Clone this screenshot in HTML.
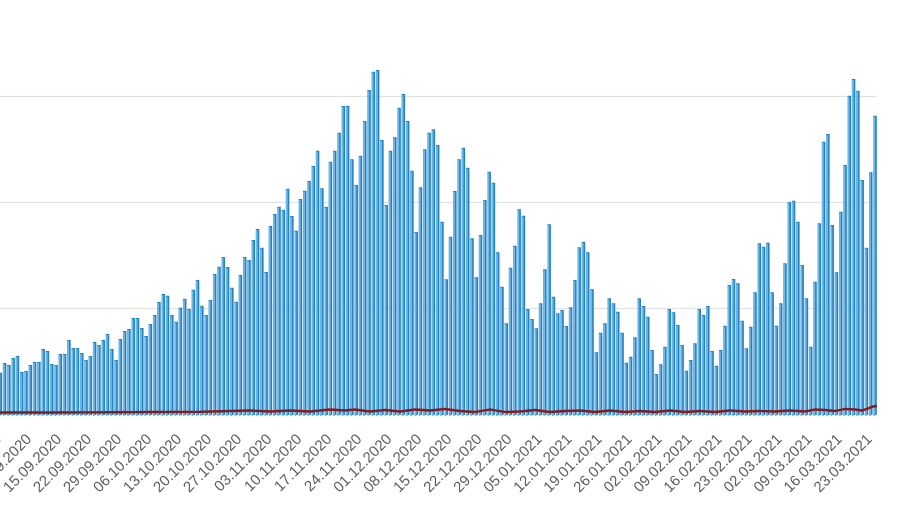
<!DOCTYPE html>
<html>
<head>
<meta charset="utf-8">
<style>
  html, body { margin: 0; padding: 0; background: #ffffff; }
  body { width: 900px; height: 505px; overflow: hidden; }
  svg { display: block; }
</style>
</head>
<body>
<svg width="900" height="505" viewBox="0 0 900 505" xmlns="http://www.w3.org/2000/svg">
  <rect x="0" y="0" width="900" height="505" fill="#ffffff"/>
  <!-- gridlines -->
  <g stroke="#e2e2e2" stroke-width="1.3">
    <line x1="0" y1="96.5" x2="877" y2="96.5"/>
    <line x1="0" y1="202.5" x2="877" y2="202.5"/>
    <line x1="0" y1="308.5" x2="877" y2="308.5"/>
  </g>
  <defs>
    <path id="bars" d="M0.3 415V372.7V415m4.288 0V363V415m4.288 0V365V415m4.288 0V358V415m4.288 0V356V415m4.288 0V372V415m4.288 0V371V415m4.288 0V365V415m4.288 0V362V415m4.288 0V362V415m4.288 0V349V415m4.288 0V351V415m4.288 0V364V415m4.288 0V365V415m4.288 0V354V415m4.288 0V354V415m4.288 0V340V415m4.288 0V348V415m4.288 0V348V415m4.288 0V353V415m4.288 0V360V415m4.288 0V356V415m4.288 0V342V415m4.288 0V345V415m4.288 0V340V415m4.288 0V334V415m4.288 0V349V415m4.288 0V360V415m4.288 0V339V415m4.288 0V331V415m4.288 0V329V415m4.288 0V318V415m4.288 0V318V415m4.288 0V328V415m4.288 0V336V415m4.288 0V324V415m4.288 0V315V415m4.288 0V302V415m4.288 0V294V415m4.288 0V295.7V415m4.288 0V315V415m4.288 0V321.7V415m4.288 0V307.7V415m4.288 0V298.7V415m4.288 0V309V415m4.288 0V289.7V415m4.288 0V280V415m4.288 0V305.7V415m4.288 0V315V415m4.288 0V300V415m4.288 0V274V415m4.288 0V266.7V415m4.288 0V257V415m4.288 0V267V415m4.288 0V287.7V415m4.288 0V301.7V415m4.288 0V275V415m4.288 0V257V415m4.288 0V260V415m4.288 0V240V415m4.288 0V229V415m4.288 0V247.7V415m4.288 0V272V415m4.288 0V226V415m4.288 0V214V415m4.288 0V206.7V415m4.288 0V210V415m4.288 0V188.7V415m4.288 0V216V415m4.288 0V230.7V415m4.288 0V199V415m4.288 0V190.7V415m4.288 0V181V415m4.288 0V166V415m4.288 0V150.7V415m4.288 0V188.3V415m4.288 0V206.7V415m4.288 0V161.7V415m4.288 0V150.7V415m4.288 0V132.7V415m4.288 0V106V415m4.288 0V106V415m4.288 0V159.3V415m4.288 0V185V415m4.288 0V155.7V415m4.288 0V121V415m4.288 0V90V415m4.288 0V71.7V415m4.288 0V70V415m4.288 0V140V415m4.288 0V205V415m4.288 0V150.7V415m4.288 0V137.3V415m4.288 0V107.7V415m4.288 0V94V415m4.288 0V121V415m4.288 0V170.7V415m4.288 0V232V415m4.288 0V187.3V415m4.288 0V149.3V415m4.288 0V132.7V415m4.288 0V129.3V415m4.288 0V145V415m4.288 0V221.7V415m4.288 0V279.3V415m4.288 0V236.7V415m4.288 0V191V415m4.288 0V159.3V415m4.288 0V147.7V415m4.288 0V167.7V415m4.288 0V238.3V415m4.288 0V277.3V415m4.288 0V235V415m4.288 0V200V415m4.288 0V171.7V415m4.288 0V182.7V415m4.288 0V252.3V415m4.288 0V286.7V415m4.288 0V323.3V415m4.288 0V267.7V415m4.288 0V245.7V415m4.288 0V209.3V415m4.288 0V215.7V415m4.288 0V309V415m4.288 0V319V415m4.288 0V328.3V415m4.288 0V303.3V415m4.288 0V269.3V415m4.288 0V224.3V415m4.288 0V296.7V415m4.288 0V313.3V415m4.288 0V310V415m4.288 0V326V415m4.288 0V307.3V415m4.288 0V280V415m4.288 0V247.3V415m4.288 0V241.7V415m4.288 0V252.3V415m4.288 0V289.3V415m4.288 0V352.3V415m4.288 0V332.7V415m4.288 0V323.3V415m4.288 0V298.3V415m4.288 0V303.3V415m4.288 0V311.7V415m4.288 0V332.7V415m4.288 0V362.7V415m4.288 0V356.7V415m4.288 0V337.3V415m4.288 0V298.3V415m4.288 0V306V415m4.288 0V316.7V415m4.288 0V350V415m4.288 0V374V415m4.288 0V364.3V415m4.288 0V346.7V415m4.288 0V309V415m4.288 0V312.3V415m4.288 0V325V415m4.288 0V345V415m4.288 0V370.7V415m4.288 0V360V415m4.288 0V343.3V415m4.288 0V309V415m4.288 0V315V415m4.288 0V306V415m4.288 0V351V415m4.288 0V365.7V415m4.288 0V350V415m4.288 0V325.7V415m4.288 0V285V415m4.288 0V279V415m4.288 0V283.3V415m4.288 0V320.7V415m4.288 0V348.3V415m4.288 0V326.7V415m4.288 0V292.3V415m4.288 0V243.3V415m4.288 0V246.7V415m4.288 0V242.7V415m4.288 0V292.3V415m4.288 0V325.7V415m4.288 0V303.3V415m4.288 0V263.3V415m4.288 0V202.3V415m4.288 0V200.7V415m4.288 0V221.7V415m4.288 0V265V415m4.288 0V298.3V415m4.288 0V346.7V415m4.288 0V281.7V415m4.288 0V223.3V415m4.288 0V141.7V415m4.288 0V134V415m4.288 0V225V415m4.288 0V272.3V415m4.288 0V211.7V415m4.288 0V165V415m4.288 0V95.7V415m4.288 0V79V415m4.288 0V90.7V415m4.288 0V180V415m4.288 0V247.7V415m4.288 0V172.3V415m4.288 0V115.7V415"/>
  </defs>
  <!-- bars: dark body + light left highlight -->
  <use href="#bars" fill="none" stroke="#2383c1" stroke-width="3.5"/>
  <use href="#bars" transform="translate(-0.75 1)" fill="none" stroke="#72b8e6" stroke-width="1.8"/>

  <!-- red line -->
  <path fill="none" stroke="#861a1e" stroke-width="2.4" stroke-linejoin="round"
    d="M0 412.5 L50 412.5 L100 412.3 L150 412 L200 411.8 L230 411 L250 410.5 L270 411.5 L290 410.5 L310 411.5 L330 409.5 L345 410.5 L355 409.5 L370 411.5 L385 410 L400 411.5 L415 409.5 L430 410.5 L445 409 L460 411 L475 412 L490 409.5 L505 412 L520 411.5 L535 410 L550 412 L565 411 L580 410.5 L595 412 L610 410.5 L625 412 L640 411 L655 412 L670 410.5 L685 412 L700 411 L715 412 L730 410.5 L745 411.5 L760 411 L775 411.5 L790 410.5 L805 411.5 L815 409.5 L825 410 L835 411 L845 409 L855 409.5 L862 410.5 L868 408.5 L873 406.5 L877 406"/>

  <!-- x-axis labels -->
  <g font-family="'Liberation Sans', sans-serif" font-size="15" fill="#5c5c5c" text-anchor="end">
    <text transform="translate(2.3 440) rotate(-45)">01.09.2020</text>
    <text transform="translate(32.3 440) rotate(-45)">08.09.2020</text>
    <text transform="translate(62.3 440) rotate(-45)">15.09.2020</text>
    <text transform="translate(92.3 440) rotate(-45)">22.09.2020</text>
    <text transform="translate(122.4 440) rotate(-45)">29.09.2020</text>
    <text transform="translate(152.4 440) rotate(-45)">06.10.2020</text>
    <text transform="translate(182.4 440) rotate(-45)">13.10.2020</text>
    <text transform="translate(212.4 440) rotate(-45)">20.10.2020</text>
    <text transform="translate(242.4 440) rotate(-45)">27.10.2020</text>
    <text transform="translate(272.5 440) rotate(-45)">03.11.2020</text>
    <text transform="translate(302.5 440) rotate(-45)">10.11.2020</text>
    <text transform="translate(332.5 440) rotate(-45)">17.11.2020</text>
    <text transform="translate(362.5 440) rotate(-45)">24.11.2020</text>
    <text transform="translate(392.5 440) rotate(-45)">01.12.2020</text>
    <text transform="translate(422.5 440) rotate(-45)">08.12.2020</text>
    <text transform="translate(452.5 440) rotate(-45)">15.12.2020</text>
    <text transform="translate(482.6 440) rotate(-45)">22.12.2020</text>
    <text transform="translate(512.6 440) rotate(-45)">29.12.2020</text>
    <text transform="translate(542.6 440) rotate(-45)">05.01.2021</text>
    <text transform="translate(572.6 440) rotate(-45)">12.01.2021</text>
    <text transform="translate(602.6 440) rotate(-45)">19.01.2021</text>
    <text transform="translate(632.6 440) rotate(-45)">26.01.2021</text>
    <text transform="translate(662.7 440) rotate(-45)">02.02.2021</text>
    <text transform="translate(692.7 440) rotate(-45)">09.02.2021</text>
    <text transform="translate(722.7 440) rotate(-45)">16.02.2021</text>
    <text transform="translate(752.7 440) rotate(-45)">23.02.2021</text>
    <text transform="translate(782.7 440) rotate(-45)">02.03.2021</text>
    <text transform="translate(812.7 440) rotate(-45)">09.03.2021</text>
    <text transform="translate(842.8 440) rotate(-45)">16.03.2021</text>
    <text transform="translate(872.8 440) rotate(-45)">23.03.2021</text>
  </g>
</svg>
</body>
</html>
